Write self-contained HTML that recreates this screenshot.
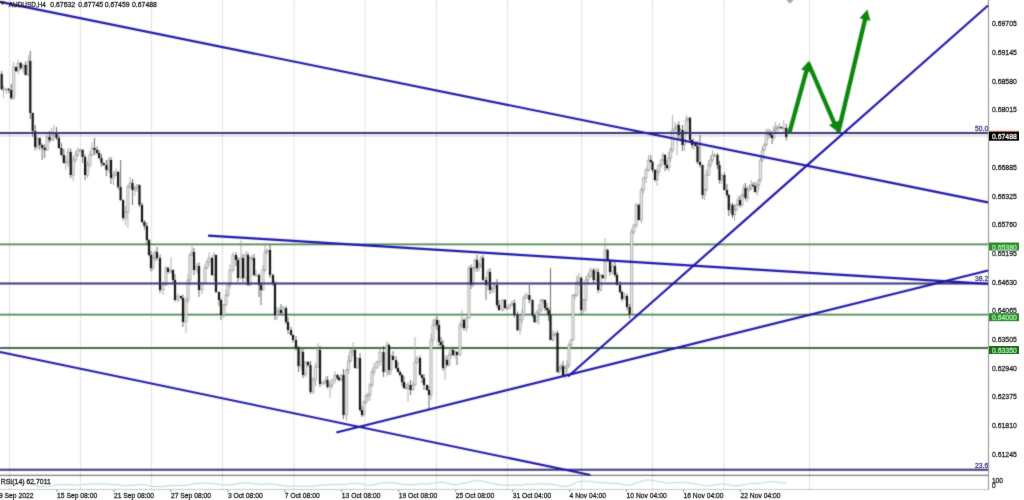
<!DOCTYPE html>
<html><head><meta charset="utf-8"><style>html,body{margin:0;padding:0;background:#fff;overflow:hidden;width:1024px;height:500px}svg{display:block}</style></head>
<body><svg width="1024" height="500" viewBox="0 0 1024 500">
<defs><filter id="soft" x="0" y="0" width="1024" height="500" filterUnits="userSpaceOnUse" color-interpolation-filters="sRGB"><feConvolveMatrix order="3" kernelMatrix="1 2 1 2 12 2 1 2 1" divisor="24.0" edgeMode="duplicate"/></filter><filter id="softt" x="0" y="0" width="1024" height="500" filterUnits="userSpaceOnUse" color-interpolation-filters="sRGB"><feConvolveMatrix order="3" kernelMatrix="0 1 0 1 12 1 0 1 0" divisor="16.0" edgeMode="duplicate"/></filter></defs>
<g filter="url(#soft)">
<rect width="1024" height="500" fill="#fff"/>
<g stroke="#c4c4c4" stroke-width="1" stroke-dasharray="1 1"><line x1="9.5" y1="0" x2="9.5" y2="490" /><line x1="80.5" y1="0" x2="80.5" y2="490" /><line x1="151.5" y1="0" x2="151.5" y2="490" /><line x1="222.5" y1="0" x2="222.5" y2="490" /><line x1="294" y1="0" x2="294" y2="490" /><line x1="365" y1="0" x2="365" y2="490" /><line x1="436.5" y1="0" x2="436.5" y2="490" /><line x1="507.5" y1="0" x2="507.5" y2="490" /><line x1="581.5" y1="0" x2="581.5" y2="490" /><line x1="652.5" y1="0" x2="652.5" y2="490" /><line x1="724" y1="0" x2="724" y2="490" /><line x1="809.5" y1="0" x2="809.5" y2="490" /></g>
<line x1="0" y1="489.5" x2="988" y2="489.5" stroke="#c8c8c8" stroke-width="1"/>
<path d="M57.05 490v2M114 490v2M170.95 490v2M227.9 490v2M284.85 490v2M341.8 490v2M398.75 490v2M455.7 490v2M512.65 490v2M569.6 490v2M626.55 490v2M683.5 490v2M740.45 490v2" stroke="#666" stroke-width="0.8"/>
<line x1="988.5" y1="0" x2="988.5" y2="490" stroke="#8c8c8c" stroke-width="1"/>
<line x1="0" y1="475.3" x2="988" y2="475.3" stroke="#4a4a4a" stroke-width="0.9"/>
<polyline points="1.7,484 3.5,484 6.3,484 8.7,484 11.2,484 13.7,484 16.1,484 18.2,484 20.7,483.74 23.1,483.5 25.6,483.45 28.7,483.23 30.3,483.61 32.7,484.51 35.2,485.33 37.3,485.93 39.7,486.41 42.2,486.5 44.7,486.5 47.1,486.5 49.5,486.21 51.7,485.71 53.8,485.11 56.5,484.83 58.9,484.66 61.4,484.58 63.8,484.6 65.8,484.76 68.3,484.72 70.7,485.04 73.1,485.12 75.6,485.05 77.7,484.81 80.1,484.55 82.6,484.34 85.1,484.41 87.5,484.47 89.9,484.1 92.1,483.93 94.5,483.88 97,483.95 99.1,484.06 101.5,484.12 103.7,483.97 106.4,484.04 108.9,484.09 111,484.44 113.5,484.64 115.9,484.72 118.1,484.9 120.6,485.14 123.1,485.52 125.5,485.66 127.9,485.58 130.1,485.25 132.5,485.13 134.9,485.04 137.1,484.76 139.5,484.63 142,484.52 144.4,484.57 146.9,485.09 149,485.72 151,486.26 153,486.5 155,486.5 157,486.5 160,486.5 163,486.5 166,486.23 168,485.88 171,485.44 173,485.35 175,485.61 178,485.69 181,485.36 183,485.49 186,485.51 188,485.24 190,484.74 192,484.2 194,483.78 197,483.46 199,483.49 202,483.13 205,482.95 207,482.99 209,483.28 212,483.75 214,483.62 216,484.04 219,484.16 221,484.52 224,484.85 226,485.05 228,485.13 230,484.78 233,484.59 236,484.04 238,483.75 241,483.1 243,482.99 246,482.74 248,483.06 250,483.14 252,483.39 254,483.73 256,483.76 259,484.16 261,484.27 263,484.39 265,483.88 267,483.81 270,484.07 273,484.15 275,484.61 277,484.8 279,484.85 281,485.17 283,485.58 286,486.09 288,486.25 291,486.34 293,486.07 296,486 298.5,486.2 301,486.14 303,486.44 305.5,486.33 308,486.19 310.5,486.35 313,486.26 315.5,485.94 318,485.25 320,485.34 323,485.09 325.5,485.04 327.5,485.06 330,484.71 332,484.53 335,484.5 337.5,484.72 339,484.49 341.5,484.28 343.5,484.65 346.5,484.27 348.5,483.91 350.5,483.58 353,483.37 355,483.4 357,483.28 360,483.9 362,483.92 364,484.34 366,484.69 368,485.06 370,485.23 372,484.97 374,484.85 377,484.04 380,483.24 383.5,483.06 387,482.66 389,482.68 391,482.65 393,482.84 396,483.13 398,483.47 400,483.89 402,484.04 404,484.57 406,484.65 408,484.85 410.5,485.01 413,484.97 415,484.6 417,484.24 420,484.09 422,483.94 424,483.92 427,484 429,484.07 431,483.49 433,483.15 435,482.89 437,482.54 439,482.46 441,482.34 443,482.48 445,482.42 447,483.13 449,483.72 451,484.17 453,484.5 455,484.5 457,484.5 460,483.84 462,483.38 464,483.07 466.5,482.84 469,482.11 471,481.7 473,481.23 475,480.73 477,480.84 479,480.94 481,480.83 483,481.15 486,482.07 488,482.39 490,483.07 492,483.65 494,483.95 497,484.46 499,485 502.5,485 505,485.04 507,485.23 509.5,485.11 512,485.02 514.38,485.14 517.5,485.17 520,485 522,484.94 523.75,484.58 526.25,484.27 529.38,484.14 532.5,484.26 534.5,484.28 536.25,484 538.75,483.87 541.25,483.72 543,483.81 545,484.02 547,484.14 548.75,484.11 550.5,484.3 553,484.5 555,484.67 557.5,485.4 559,485.9 561,486.15 563,486.42 565,486.48 567,486.17 569,485.75 571,485.4 573,484.09 574.7,483.16 576.8,482.32 578.9,481.52 581.3,481.42 583.5,481.25 585.9,481.13 588,481.04 590.5,481.47 593.6,481.92 596.1,482.31 598.1,482.88 600.6,482.73 602.7,482.77 605.1,482.7 607.6,482.83 610,483.14 612.6,483.18 615,483.43 617,483.51 620,483.84 622,484.14 624.4,484.68 627,485.1 629.6,485.35 631.6,484.59 633.75,483.82 636.25,482.86 638.75,482.25 641.25,481.32 643.5,480.52 646,480 648.5,480 650.75,480.12 652.5,480.41 655,480.99 657,481.14 658.75,481.55 661.25,481.93 663,482.26 665,482.76 667,483.14 668.75,483.21 670.5,483.03 672.5,482.75 675,482.6 677,482.51 678.75,482.63 680.5,482.54 682.5,482.62 684.5,482.64 686.25,482.6 688.25,482.8 690,483.25 692,483.69 693.75,483.85 695.5,484.09 697.5,484.28 700,484.62 702.5,485.4 704.5,485.95 706.25,485.9 708.75,485.68 710.5,485.48 712.5,485.22 714.5,484.83 717.5,484.62 719.5,484.28 721.25,484.02 724.38,484.2 727,484.53 728.75,485.02 730.5,485.39 732.5,485.79 734.5,485.91 736.25,485.74 738,485.62 740,485.4 742,485.05 743.75,484.51 745.5,484.3 747.5,483.91 749.5,483.66 751.25,483.49 753,483.45 755,483.42 757,483.44 758.75,483.48 760.5,483.14 762.5,482.85 764.5,482.6 766.25,482.33 768,482.07 770,481.84 772,481.79 773.75,481.72 775.5,481.89 777.5,482.13 779.5,482.37 781.25,482.69 783.75,482.97 786.25,483.25" fill="none" stroke="#a9d0da" stroke-width="0.9"/>
<line x1="0" y1="135.8" x2="988" y2="135.8" stroke="#d6d6d0" stroke-width="1.2"/>
<g fill="none">
<line x1="0" y1="244.4" x2="988" y2="244.4" stroke="#4f8454" stroke-width="1.8"/>
<line x1="0" y1="314.7" x2="988" y2="314.7" stroke="#4f8454" stroke-width="1.8"/>
<line x1="0" y1="347.9" x2="988" y2="347.9" stroke="#3f6e45" stroke-width="2"/>
</g>
<path d="M3.5 85.5V98M6.3 88V94M13.7 62V100M18.2 59.5V74.5M23.1 64V73M28.7 55V76M37.3 137.5V149M47.1 132V151M51.7 128V141.5M53.8 125V141M65.8 156V170M68.3 148V167M73.1 156V181M75.6 151V163M77.7 147.5V157M80.1 148.5V152M87.5 161V178M89.9 151V167.5M92.1 142V156M108.9 157V173M113.5 171V185M115.9 168V176M125.5 206V225M127.9 184.5V228M130.1 177V187.5M134.9 186.5V196M137.1 184V192M153 253V270.5M155 250.5V261.5M163 281.5V295M166 266.5V286M171 257V274M178 293.5V302.5M186 297V333M188 274V303M190 253.5V285M192 246V255.5M197 262.5V273.5M202 282V294M205 264.5V283.5M207 260V269M209 252V266M214 252V281M224 304V318M226 289V305.5M228 284V297M230 264V288.5M233 252V272.5M241 240V279M246 251V282M250 256.5V286M252 255V260.5M256 270V275.5M263 265V290.5M265 245V272.5M267 249V254.5M277 307V320M279 307V314M283 306V316.5M301 349V370M305.5 361V377M313 377V394M315.5 363V386M318 343V367.5M323 381V385M325.5 376.5V384M330 381.5V398M332 379V388.5M335 371V383.5M341.5 374.5V381.5M346.5 368.5V421M348.5 355V374M350.5 349V362.5M353 342V357M357 357.5V369M364 400V415.5M366 393.5V404M368 392.5V401M370 383V401M372 369V387.5M374 363V375.5M377 360.5V368.5M380 349V366M387 341.5V377M391 354.5V375M406 383V388.5M408 382V402M413 381V391M415 337V385.5M417 356V364M431 334V400M433 319V345M435 318V327.5M445 355V380M449 351.5V366M451 346.5V359M455 350V358.5M460 322.5V356M462 310V328M466.5 316.5V332M469 266V319M473 266.5V287M475 258.5V271.5M479 262V271.5M481 256V268M488 269V290M492 287.5V293.5M494 282V293M502.5 299V312M507 305.5V310.5M509.5 304.5V309.5M512 300.5V306.5M520 315V335M522 309V324M523.75 295V316M526.25 292.5V298.5M536.25 310.5V323M538.75 304V325M541.25 299V312.5M543 299V304M553 330V342M555 332V336.5M559 366.5V374M561 363.5V370.5M565 365.5V379M567 360V376M569 342.5V368M571 339.5V347.5M573 294.5V340.5M574.7 294.5V300M576.8 275V297M578.9 273V286M583.5 299V313.5M585.9 276V312M588 272.5V285M590.5 267.5V278M596.1 268V281.5M600.6 274.5V291.5M605.1 238V281.5M612.6 261V274.5M624.4 292V299.5M631.6 229V316M633.75 224.5V234.5M636.25 203V228M641.25 187V223.5M643.5 177V194M646 167.5V183M648.5 155V172M657 168.5V186M658.75 164.5V175.5M661.25 159.5V167.5M663 152.5V162M668.75 152V171.5M670.5 147V162M672.5 115V152.5M675 122V131.5M677 124.5V155M680.5 128.5V140M684.5 131.5V151M686.25 115V133M688.25 117.5V120.5M693.75 138V150M704.5 189V200M706.25 170V191M708.75 160V176M710.5 156V167.5M712.5 150V162.5M714.5 153V157M721.25 174V184M730.5 203.5V213M734.5 204V221M736.25 203.5V210.5M738 196V205.5M742 194V207M743.75 184V197.5M747.5 186V202M749.5 184V191M751.25 180V190M757 182.5V196M758.75 179V190M760.5 156V182.5M762.5 146.5V162M764.5 143V151M766.25 129V146M768 128V140M773.75 125V140.5M775.5 122V133M777.5 125V132M779.5 123V130.5M783.75 120V132" stroke="#9a9a9a" stroke-width="0.8" fill="none"/><path d="M1.7 71V90.5M8.7 88V93M11.2 84V100M16.1 66.5V72M20.7 62V70M25.6 61.5V75.5M30.3 51V119M32.7 112.5V137M35.2 125V150.5M39.7 137.5V150M42.2 143.5V160M44.7 144.5V158M49.5 131V142.5M56.5 127V140M58.9 135V149M61.4 143V156M63.8 149V163.5M70.7 148.5V178M82.6 149V163M85.1 154.5V180M94.5 138V155M97 146.5V154.5M99.1 150V159.5M101.5 154V166.5M103.7 162.5V166M106.4 160V176M111 157V184M118.1 171V189.5M120.6 160V201M123.1 199.5V220.5M132.5 179V205M139.5 184.5V207M142 202.5V223.5M144.4 220V229.5M146.9 222.5V244M149 239V256.5M151 251V271.5M157 247V260.5M160 254.5V293M168 266.5V273.5M173 269.5V284M175 274V301.5M181 295.5V299.5M183 294.5V327M194 248V275M199 262.5V297M212 256.5V276M216 254.5V293M219 291.5V306M221 298.5V320M236 252V266M238 257V282M243 254V282M248 252.5V286M254 254V276.5M259 273V297M261 282V305M270 245V278M273 273.5V286M275 281V320M281 304V315M286 306V324M288 317V334M291 327V335.5M293 334.5V342.5M296 336V350.5M298.5 346V372M303 349V378M308 361V367M310.5 361V394M320 346V387M327.5 376V388.5M337.5 374V379.5M339 376.5V381.5M343.5 369V419M355 348.5V368.5M360 353V411.5M362 406.5V417M383.5 346V377M389 343.5V375M393 351V360.5M396 356V369.5M398 362V372.5M400 370.5V376.5M402 373.5V386M404 376V389M410.5 380V395M420 355.5V375.5M422 374V383M424 374V390M427 384.5V391M429 386V410M437 316V330M439 320V346M441 337V347M443 340V370.5M447 356V366.5M453 347V356M457 351V365M464 318.5V330.5M471 264.5V289M477 255V271.5M483 255V281M486 277V300M490 268V294M497 279V307.5M499 300V311M505 299V309M514.38 299.5V317.5M517.5 311.5V331.5M529.38 285V303.5M532.5 299V317.5M534.5 314.5V323M545 299.5V311M547 303V313.5M548.75 307.5V321M550.5 268V340.5M557.5 330.5V372.5M563 361V377M581.3 276V315M593.6 268V283M598.1 268.5V293M602.7 274.5V279M607.6 248.5V260.5M610 259V275.5M615 260V277M617 272.5V285.5M620 281V293.5M622 290.5V301.5M627 293.5V310M629.6 304V319M638.75 203.5V220.5M650.75 155V162.5M652.5 161V172.5M655 169V181.5M665 154V171M667 160V169.5M678.75 121.5V140M682.5 125V151M690 116.5V143M692 139V148.5M695.5 141.5V146.5M697.5 141V164M700 135V167.5M702.5 164.5V199M717.5 153V169M719.5 161V183.5M724.38 172.5V190.5M727 184V197M728.75 194V216M732.5 202.5V218M740 196V207.5M745.5 183V200.5M753 182.5V187M755 182V192.5M770 129.5V138M772 133.5V144M781.25 126.5V129.5M786.25 124V140.5" stroke="#444" stroke-width="0.8" fill="none"/><path d="M2.4 89h2.2v1h-2.2zM5.2 89h2.2v1h-2.2zM12.6 67h2.2v31h-2.2zM17.1 63h2.2v8h-2.2zM22 65h2.2v3h-2.2zM27.6 61h2.2v14h-2.2zM36.2 138h2.2v9h-2.2zM46 137h2.2v13h-2.2zM50.6 135h2.2v5h-2.2zM52.7 133h2.2v2h-2.2zM64.7 162h2.2v1h-2.2zM67.2 152h2.2v10h-2.2zM72 160h2.2v15h-2.2zM74.5 155h2.2v5h-2.2zM76.6 150h2.2v5h-2.2zM79 150h2.2v1h-2.2zM86.4 165h2.2v10h-2.2zM88.8 155h2.2v10h-2.2zM91 148h2.2v7h-2.2zM107.8 160h2.2v10h-2.2zM112.4 175h2.2v3h-2.2zM114.8 172h2.2v3h-2.2zM124.4 212h2.2v6h-2.2zM126.8 187h2.2v25h-2.2zM129 183h2.2v4h-2.2zM133.8 188h2.2v2h-2.2zM136 185h2.2v3h-2.2zM151.9 258h2.2v10h-2.2zM153.9 252h2.2v6h-2.2zM161.9 285h2.2v5h-2.2zM164.9 268h2.2v17h-2.2zM169.9 270h2.2v2h-2.2zM176.9 296h2.2v4h-2.2zM184.9 300h2.2v22h-2.2zM186.9 280h2.2v20h-2.2zM188.9 255h2.2v25h-2.2zM190.9 252h2.2v3h-2.2zM195.9 266h2.2v4h-2.2zM200.9 283h2.2v7h-2.2zM203.9 268h2.2v15h-2.2zM205.9 262h2.2v6h-2.2zM207.9 258h2.2v4h-2.2zM212.9 255h2.2v20h-2.2zM222.9 305h2.2v10h-2.2zM224.9 295h2.2v10h-2.2zM226.9 285h2.2v10h-2.2zM228.9 270h2.2v15h-2.2zM231.9 255h2.2v15h-2.2zM239.9 258h2.2v20h-2.2zM244.9 255h2.2v23h-2.2zM248.9 258h2.2v27h-2.2zM250.9 258h2.2v1h-2.2zM254.9 275h2.2v1h-2.2zM261.9 270h2.2v20h-2.2zM263.9 252h2.2v18h-2.2zM265.9 250h2.2v2h-2.2zM275.9 312h2.2v3h-2.2zM277.9 310h2.2v2h-2.2zM281.9 308h2.2v5h-2.2zM299.9 352h2.2v14h-2.2zM304.4 362h2.2v13h-2.2zM311.9 380h2.2v12h-2.2zM314.4 367h2.2v13h-2.2zM316.9 350h2.2v17h-2.2zM321.9 382h2.2v2h-2.2zM324.4 380h2.2v2h-2.2zM328.9 385h2.2v2h-2.2zM330.9 380h2.2v5h-2.2zM333.9 375h2.2v5h-2.2zM340.4 375h2.2v5h-2.2zM345.4 370h2.2v45h-2.2zM347.4 361h2.2v9h-2.2zM349.4 352h2.2v9h-2.2zM351.9 350h2.2v2h-2.2zM355.9 358h2.2v10h-2.2zM362.9 402h2.2v13h-2.2zM364.9 396h2.2v6h-2.2zM366.9 395h2.2v1h-2.2zM368.9 385h2.2v10h-2.2zM370.9 372h2.2v13h-2.2zM372.9 368h2.2v4h-2.2zM375.9 362h2.2v6h-2.2zM378.9 352h2.2v10h-2.2zM385.9 345h2.2v27h-2.2zM389.9 356h2.2v14h-2.2zM404.9 388h2.2v1h-2.2zM406.9 385h2.2v3h-2.2zM411.9 385h2.2v5h-2.2zM413.9 362h2.2v23h-2.2zM415.9 358h2.2v4h-2.2zM429.9 340h2.2v55h-2.2zM431.9 325h2.2v15h-2.2zM433.9 320h2.2v5h-2.2zM443.9 360h2.2v8h-2.2zM447.9 355h2.2v10h-2.2zM449.9 350h2.2v5h-2.2zM453.9 352h2.2v3h-2.2zM458.9 325h2.2v30h-2.2zM460.9 320h2.2v5h-2.2zM465.4 318h2.2v10h-2.2zM467.9 268h2.2v50h-2.2zM471.9 268h2.2v17h-2.2zM473.9 260h2.2v8h-2.2zM477.9 265h2.2v3h-2.2zM479.9 258h2.2v7h-2.2zM486.9 272h2.2v13h-2.2zM490.9 288h2.2v2h-2.2zM492.9 285h2.2v3h-2.2zM501.4 300h2.2v10h-2.2zM505.9 308h2.2v1h-2.2zM508.4 305h2.2v3h-2.2zM510.9 303h2.2v2h-2.2zM518.9 320h2.2v10h-2.2zM520.9 315h2.2v5h-2.2zM522.65 298h2.2v17h-2.2zM525.15 295h2.2v3h-2.2zM535.15 313h2.2v9h-2.2zM537.65 310h2.2v3h-2.2zM540.15 300h2.2v10h-2.2zM541.9 300h2.2v1h-2.2zM551.9 335h2.2v5h-2.2zM553.9 333h2.2v2h-2.2zM557.9 368h2.2v4h-2.2zM559.9 366h2.2v2h-2.2zM563.9 368h2.2v7h-2.2zM565.9 365h2.2v3h-2.2zM567.9 345h2.2v20h-2.2zM569.9 340h2.2v5h-2.2zM571.9 295h2.2v45h-2.2zM573.6 295h2.2v1h-2.2zM575.7 282h2.2v13h-2.2zM577.8 278h2.2v4h-2.2zM582.4 300h2.2v10h-2.2zM584.8 280h2.2v20h-2.2zM586.9 276h2.2v4h-2.2zM589.4 270h2.2v6h-2.2zM595 272h2.2v8h-2.2zM599.5 275h2.2v15h-2.2zM604 250h2.2v28h-2.2zM611.5 266h2.2v6h-2.2zM623.3 296h2.2v3h-2.2zM630.5 232h2.2v82h-2.2zM632.65 225h2.2v7h-2.2zM635.15 205h2.2v20h-2.2zM640.15 190h2.2v30h-2.2zM642.4 178h2.2v12h-2.2zM644.9 170h2.2v8h-2.2zM647.4 160h2.2v10h-2.2zM655.9 172h2.2v8h-2.2zM657.65 165h2.2v7h-2.2zM660.15 160h2.2v5h-2.2zM661.9 155h2.2v5h-2.2zM667.65 158h2.2v10h-2.2zM669.4 150h2.2v8h-2.2zM671.4 130h2.2v20h-2.2zM673.9 128h2.2v2h-2.2zM675.9 125h2.2v3h-2.2zM679.4 130h2.2v5h-2.2zM683.4 132h2.2v13h-2.2zM685.15 120h2.2v12h-2.2zM687.15 118h2.2v2h-2.2zM692.65 142h2.2v3h-2.2zM703.4 190h2.2v5h-2.2zM705.15 175h2.2v15h-2.2zM707.65 165h2.2v10h-2.2zM709.4 160h2.2v5h-2.2zM711.4 155h2.2v5h-2.2zM713.4 155h2.2v1h-2.2zM720.15 175h2.2v5h-2.2zM729.4 205h2.2v5h-2.2zM733.4 210h2.2v5h-2.2zM735.15 205h2.2v5h-2.2zM736.9 200h2.2v5h-2.2zM740.9 195h2.2v10h-2.2zM742.65 188h2.2v7h-2.2zM746.4 190h2.2v8h-2.2zM748.4 188h2.2v2h-2.2zM750.15 185h2.2v3h-2.2zM755.9 185h2.2v7h-2.2zM757.65 180h2.2v5h-2.2zM759.4 160h2.2v20h-2.2zM761.4 150h2.2v10h-2.2zM763.4 145h2.2v5h-2.2zM765.15 135h2.2v10h-2.2zM766.9 132h2.2v3h-2.2zM772.65 130h2.2v8h-2.2zM774.4 128h2.2v2h-2.2zM776.4 127h2.2v1h-2.2zM778.4 127h2.2v1h-2.2zM782.65 128h2.2v1h-2.2z" fill="#efefef" stroke="#8c8c8c" stroke-width="0.65"/><path d="M0.6 74h2.2v15h-2.2zM7.6 89h2.2v1h-2.2zM10.1 90h2.2v8h-2.2zM15 67h2.2v4h-2.2zM19.6 63h2.2v5h-2.2zM24.5 65h2.2v10h-2.2zM29.2 61h2.2v52h-2.2zM31.6 113h2.2v18h-2.2zM34.1 131h2.2v16h-2.2zM38.6 138h2.2v7h-2.2zM41.1 145h2.2v3h-2.2zM43.6 148h2.2v2h-2.2zM48.4 137h2.2v3h-2.2zM55.4 133h2.2v5h-2.2zM57.8 138h2.2v10h-2.2zM60.3 148h2.2v7h-2.2zM62.7 155h2.2v8h-2.2zM69.6 152h2.2v23h-2.2zM81.5 150h2.2v7h-2.2zM84 157h2.2v18h-2.2zM93.4 148h2.2v2h-2.2zM95.9 150h2.2v3h-2.2zM98 153h2.2v5h-2.2zM100.4 158h2.2v5h-2.2zM102.6 163h2.2v2h-2.2zM105.3 165h2.2v5h-2.2zM109.9 160h2.2v18h-2.2zM117 172h2.2v15h-2.2zM119.5 187h2.2v13h-2.2zM122 200h2.2v18h-2.2zM131.4 183h2.2v7h-2.2zM138.4 185h2.2v20h-2.2zM140.9 205h2.2v17h-2.2zM143.3 222h2.2v4h-2.2zM145.8 226h2.2v14h-2.2zM147.9 240h2.2v15h-2.2zM149.9 255h2.2v13h-2.2zM155.9 252h2.2v6h-2.2zM158.9 258h2.2v32h-2.2zM166.9 268h2.2v4h-2.2zM171.9 270h2.2v10h-2.2zM173.9 280h2.2v20h-2.2zM179.9 296h2.2v2h-2.2zM181.9 298h2.2v24h-2.2zM192.9 252h2.2v18h-2.2zM197.9 266h2.2v24h-2.2zM210.9 258h2.2v17h-2.2zM214.9 255h2.2v37h-2.2zM217.9 292h2.2v8h-2.2zM219.9 300h2.2v15h-2.2zM234.9 255h2.2v5h-2.2zM236.9 260h2.2v18h-2.2zM241.9 258h2.2v20h-2.2zM246.9 255h2.2v30h-2.2zM252.9 258h2.2v17h-2.2zM257.9 275h2.2v10h-2.2zM259.9 285h2.2v5h-2.2zM268.9 250h2.2v25h-2.2zM271.9 275h2.2v8h-2.2zM273.9 283h2.2v32h-2.2zM279.9 310h2.2v3h-2.2zM284.9 308h2.2v14h-2.2zM286.9 322h2.2v8h-2.2zM289.9 330h2.2v5h-2.2zM291.9 335h2.2v5h-2.2zM294.9 340h2.2v8h-2.2zM297.4 348h2.2v18h-2.2zM301.9 352h2.2v23h-2.2zM306.9 362h2.2v3h-2.2zM309.4 365h2.2v27h-2.2zM318.9 350h2.2v34h-2.2zM326.4 380h2.2v7h-2.2zM336.4 375h2.2v3h-2.2zM337.9 378h2.2v2h-2.2zM342.4 375h2.2v40h-2.2zM353.9 350h2.2v18h-2.2zM358.9 358h2.2v52h-2.2zM360.9 410h2.2v5h-2.2zM382.4 352h2.2v20h-2.2zM387.9 345h2.2v25h-2.2zM391.9 356h2.2v4h-2.2zM394.9 360h2.2v8h-2.2zM396.9 368h2.2v4h-2.2zM398.9 372h2.2v3h-2.2zM400.9 375h2.2v7h-2.2zM402.9 382h2.2v6h-2.2zM409.4 385h2.2v5h-2.2zM418.9 358h2.2v17h-2.2zM420.9 375h2.2v3h-2.2zM422.9 378h2.2v7h-2.2zM425.9 385h2.2v5h-2.2zM427.9 390h2.2v5h-2.2zM435.9 320h2.2v5h-2.2zM437.9 325h2.2v17h-2.2zM439.9 342h2.2v3h-2.2zM441.9 345h2.2v23h-2.2zM445.9 360h2.2v5h-2.2zM451.9 350h2.2v5h-2.2zM455.9 352h2.2v3h-2.2zM462.9 320h2.2v8h-2.2zM469.9 268h2.2v17h-2.2zM475.9 260h2.2v8h-2.2zM481.9 258h2.2v22h-2.2zM484.9 280h2.2v5h-2.2zM488.9 272h2.2v18h-2.2zM495.9 285h2.2v20h-2.2zM497.9 305h2.2v5h-2.2zM503.9 300h2.2v8h-2.2zM513.27 303h2.2v12h-2.2zM516.4 315h2.2v15h-2.2zM528.27 295h2.2v5h-2.2zM531.4 300h2.2v15h-2.2zM533.4 315h2.2v7h-2.2zM543.9 300h2.2v8h-2.2zM545.9 308h2.2v2h-2.2zM547.65 310h2.2v5h-2.2zM549.4 315h2.2v25h-2.2zM556.4 333h2.2v39h-2.2zM561.9 366h2.2v9h-2.2zM580.2 278h2.2v32h-2.2zM592.5 270h2.2v10h-2.2zM597 272h2.2v18h-2.2zM601.6 275h2.2v3h-2.2zM606.5 250h2.2v10h-2.2zM608.9 260h2.2v12h-2.2zM613.9 266h2.2v9h-2.2zM615.9 275h2.2v10h-2.2zM618.9 285h2.2v7h-2.2zM620.9 292h2.2v7h-2.2zM625.9 296h2.2v11h-2.2zM628.5 307h2.2v7h-2.2zM637.65 205h2.2v15h-2.2zM649.65 160h2.2v2h-2.2zM651.4 162h2.2v8h-2.2zM653.9 170h2.2v10h-2.2zM663.9 155h2.2v10h-2.2zM665.9 165h2.2v3h-2.2zM677.65 125h2.2v10h-2.2zM681.4 130h2.2v15h-2.2zM688.9 118h2.2v22h-2.2zM690.9 140h2.2v5h-2.2zM694.4 142h2.2v4h-2.2zM696.4 146h2.2v16h-2.2zM698.9 162h2.2v3h-2.2zM701.4 165h2.2v30h-2.2zM716.4 155h2.2v10h-2.2zM718.4 165h2.2v15h-2.2zM723.27 175h2.2v15h-2.2zM725.9 190h2.2v5h-2.2zM727.65 195h2.2v15h-2.2zM731.4 205h2.2v10h-2.2zM738.9 200h2.2v5h-2.2zM744.4 188h2.2v10h-2.2zM751.9 185h2.2v1h-2.2zM753.9 186h2.2v6h-2.2zM768.9 132h2.2v3h-2.2zM770.9 135h2.2v3h-2.2zM780.15 127h2.2v1h-2.2zM785.15 128h2.2v9h-2.2z" fill="#111"/>
<g stroke="#3b3476" stroke-width="2">
<line x1="0" y1="132.9" x2="988" y2="132.9"/>
<line x1="0" y1="283.4" x2="988" y2="283.4"/>
<line x1="0" y1="469.8" x2="988" y2="469.8"/>
</g>
<g stroke="#1c14aa" stroke-width="2.1" fill="none">
<line x1="0" y1="1.9" x2="988" y2="202.4"/>
<line x1="208" y1="235.6" x2="988" y2="283.9"/>
<line x1="0" y1="352" x2="590.4" y2="475"/>
<line x1="336.3" y1="432.5" x2="988" y2="270.5"/>
<line x1="568" y1="376.5" x2="988" y2="5.5"/>
</g>
<path d="M789.50 132.50L806.95 69.00" stroke="#0c870c" stroke-width="4.3" fill="none"/><path d="M809.20 60.80L811.82 72.41L801.02 69.44Z" fill="#0c870c"/><path d="M808.30 63.00L834.92 124.50" stroke="#0c870c" stroke-width="4.3" fill="none"/><path d="M838.30 132.30L828.99 124.89L839.27 120.44Z" fill="#0c870c"/><path d="M838.30 132.30L865.44 17.67" stroke="#0c870c" stroke-width="4.3" fill="none"/><path d="M867.40 9.40L870.43 20.91L859.53 18.33Z" fill="#0c870c"/>
<path d="M786.5 0h7l-3.5 3.8z" fill="#a8a8a8"/>
<path d="M0 1.5h5l-2.5 3.5z" fill="#222"/>
</g>
<g font-family="Liberation Sans, sans-serif" filter="url(#softt)">
<text x="991.90" y="26.30" font-size="7.7" fill="#222" stroke="#222" stroke-width="0.28" textLength="25.00" lengthAdjust="spacingAndGlyphs">0.69705</text><text x="991.90" y="55.00" font-size="7.7" fill="#222" stroke="#222" stroke-width="0.28" textLength="25.00" lengthAdjust="spacingAndGlyphs">0.69145</text><text x="991.90" y="83.70" font-size="7.7" fill="#222" stroke="#222" stroke-width="0.28" textLength="25.00" lengthAdjust="spacingAndGlyphs">0.68580</text><text x="991.90" y="112.40" font-size="7.7" fill="#222" stroke="#222" stroke-width="0.28" textLength="25.00" lengthAdjust="spacingAndGlyphs">0.68015</text><text x="991.90" y="169.80" font-size="7.7" fill="#222" stroke="#222" stroke-width="0.28" textLength="25.00" lengthAdjust="spacingAndGlyphs">0.66885</text><text x="991.90" y="198.50" font-size="7.7" fill="#222" stroke="#222" stroke-width="0.28" textLength="25.00" lengthAdjust="spacingAndGlyphs">0.66325</text><text x="991.90" y="227.20" font-size="7.7" fill="#222" stroke="#222" stroke-width="0.28" textLength="25.00" lengthAdjust="spacingAndGlyphs">0.65760</text><text x="991.90" y="255.90" font-size="7.7" fill="#222" stroke="#222" stroke-width="0.28" textLength="25.00" lengthAdjust="spacingAndGlyphs">0.65195</text><text x="991.90" y="284.60" font-size="7.7" fill="#222" stroke="#222" stroke-width="0.28" textLength="25.00" lengthAdjust="spacingAndGlyphs">0.64630</text><text x="991.90" y="313.30" font-size="7.7" fill="#222" stroke="#222" stroke-width="0.28" textLength="25.00" lengthAdjust="spacingAndGlyphs">0.64065</text><text x="991.90" y="342.00" font-size="7.7" fill="#222" stroke="#222" stroke-width="0.28" textLength="25.00" lengthAdjust="spacingAndGlyphs">0.63505</text><text x="991.90" y="370.70" font-size="7.7" fill="#222" stroke="#222" stroke-width="0.28" textLength="25.00" lengthAdjust="spacingAndGlyphs">0.62940</text><text x="991.90" y="399.40" font-size="7.7" fill="#222" stroke="#222" stroke-width="0.28" textLength="25.00" lengthAdjust="spacingAndGlyphs">0.62375</text><text x="991.90" y="428.10" font-size="7.7" fill="#222" stroke="#222" stroke-width="0.28" textLength="25.00" lengthAdjust="spacingAndGlyphs">0.61810</text><text x="991.90" y="456.80" font-size="7.7" fill="#222" stroke="#222" stroke-width="0.28" textLength="25.00" lengthAdjust="spacingAndGlyphs">0.61245</text>
<text x="-1.00" y="497.60" font-size="7.3" fill="#222" stroke="#222" stroke-width="0.28" textLength="34.48" lengthAdjust="spacingAndGlyphs">9 Sep 2022</text><text x="57.05" y="497.60" font-size="7.3" fill="#222" stroke="#222" stroke-width="0.28" textLength="40.10" lengthAdjust="spacingAndGlyphs">15 Sep 08:00</text><text x="114.00" y="497.60" font-size="7.3" fill="#222" stroke="#222" stroke-width="0.28" textLength="40.10" lengthAdjust="spacingAndGlyphs">21 Sep 08:00</text><text x="170.95" y="497.60" font-size="7.3" fill="#222" stroke="#222" stroke-width="0.28" textLength="40.10" lengthAdjust="spacingAndGlyphs">27 Sep 08:00</text><text x="227.90" y="497.60" font-size="7.3" fill="#222" stroke="#222" stroke-width="0.28" textLength="34.84" lengthAdjust="spacingAndGlyphs">3 Oct 08:00</text><text x="284.85" y="497.60" font-size="7.3" fill="#222" stroke="#222" stroke-width="0.28" textLength="34.84" lengthAdjust="spacingAndGlyphs">7 Oct 08:00</text><text x="341.80" y="497.60" font-size="7.3" fill="#222" stroke="#222" stroke-width="0.28" textLength="38.59" lengthAdjust="spacingAndGlyphs">13 Oct 08:00</text><text x="398.75" y="497.60" font-size="7.3" fill="#222" stroke="#222" stroke-width="0.28" textLength="38.59" lengthAdjust="spacingAndGlyphs">19 Oct 08:00</text><text x="455.70" y="497.60" font-size="7.3" fill="#222" stroke="#222" stroke-width="0.28" textLength="38.59" lengthAdjust="spacingAndGlyphs">25 Oct 08:00</text><text x="512.65" y="497.60" font-size="7.3" fill="#222" stroke="#222" stroke-width="0.28" textLength="38.59" lengthAdjust="spacingAndGlyphs">31 Oct 04:00</text><text x="569.60" y="497.60" font-size="7.3" fill="#222" stroke="#222" stroke-width="0.28" textLength="36.34" lengthAdjust="spacingAndGlyphs">4 Nov 04:00</text><text x="626.55" y="497.60" font-size="7.3" fill="#222" stroke="#222" stroke-width="0.28" textLength="40.09" lengthAdjust="spacingAndGlyphs">10 Nov 04:00</text><text x="683.50" y="497.60" font-size="7.3" fill="#222" stroke="#222" stroke-width="0.28" textLength="40.09" lengthAdjust="spacingAndGlyphs">16 Nov 04:00</text><text x="740.45" y="497.60" font-size="7.3" fill="#222" stroke="#222" stroke-width="0.28" textLength="40.09" lengthAdjust="spacingAndGlyphs">22 Nov 04:00</text>
<text x="8.80" y="7.30" font-size="7.3" fill="#222" stroke="#222" stroke-width="0.28" textLength="37.10" lengthAdjust="spacingAndGlyphs">AUDUSD,H4</text><text x="50.30" y="7.30" font-size="7.3" fill="#222" stroke="#222" stroke-width="0.28" textLength="24.90" lengthAdjust="spacingAndGlyphs">0.67632</text><text x="78.30" y="7.30" font-size="7.3" fill="#222" stroke="#222" stroke-width="0.28" textLength="24.90" lengthAdjust="spacingAndGlyphs">0.67745</text><text x="104.70" y="7.30" font-size="7.3" fill="#222" stroke="#222" stroke-width="0.28" textLength="24.90" lengthAdjust="spacingAndGlyphs">0.67459</text><text x="132.00" y="7.30" font-size="7.3" fill="#222" stroke="#222" stroke-width="0.28" textLength="24.90" lengthAdjust="spacingAndGlyphs">0.67488</text>
<text x="0.80" y="483.70" font-size="7.3" fill="#222" stroke="#222" stroke-width="0.28" textLength="50.00" lengthAdjust="spacingAndGlyphs">RSI(14) 62.7011</text><text x="991.90" y="483.30" font-size="7.3" fill="#222" stroke="#222" stroke-width="0.28" textLength="11.00" lengthAdjust="spacingAndGlyphs">100</text><text x="991.90" y="488.30" font-size="7.3" fill="#222" stroke="#222" stroke-width="0.28" textLength="3.70" lengthAdjust="spacingAndGlyphs">0</text>
<text x="975.00" y="130.90" font-size="7.3" fill="#3d3a80" stroke="#3d3a80" stroke-width="0.28" textLength="13.20" lengthAdjust="spacingAndGlyphs">50.0</text><text x="975.00" y="281.30" font-size="7.3" fill="#3d3a80" stroke="#3d3a80" stroke-width="0.28" textLength="13.20" lengthAdjust="spacingAndGlyphs">38.2</text><text x="975.00" y="467.90" font-size="7.3" fill="#3d3a80" stroke="#3d3a80" stroke-width="0.28" textLength="13.20" lengthAdjust="spacingAndGlyphs">23.6</text>
</g>
<rect x="989" y="131.5" width="30" height="9.2" fill="#000"/>
<rect x="989" y="130.8" width="30" height="1" fill="#c8643c"/>
<rect x="989" y="242.5" width="30" height="8" fill="#2e8b2e"/>
<rect x="989" y="313.2" width="30" height="8" fill="#2e8b2e"/>
<rect x="989" y="346" width="30" height="8" fill="#176f17"/>
<g font-family="Liberation Sans, sans-serif" filter="url(#softt)"><text x="991.90" y="139.00" font-size="7.7" fill="#fff" stroke="#fff" stroke-width="0.28" textLength="25.00" lengthAdjust="spacingAndGlyphs">0.67488</text><text x="991.90" y="249.60" font-size="7.7" fill="#a8f0a8" stroke="#a8f0a8" stroke-width="0.28" textLength="25.00" lengthAdjust="spacingAndGlyphs">0.65380</text><text x="991.90" y="320.30" font-size="7.7" fill="#a8f0a8" stroke="#a8f0a8" stroke-width="0.28" textLength="25.00" lengthAdjust="spacingAndGlyphs">0.64000</text><text x="991.90" y="353.00" font-size="7.7" fill="#b8f0b8" stroke="#b8f0b8" stroke-width="0.28" textLength="25.00" lengthAdjust="spacingAndGlyphs">0.63350</text></g>
</svg></body></html>
